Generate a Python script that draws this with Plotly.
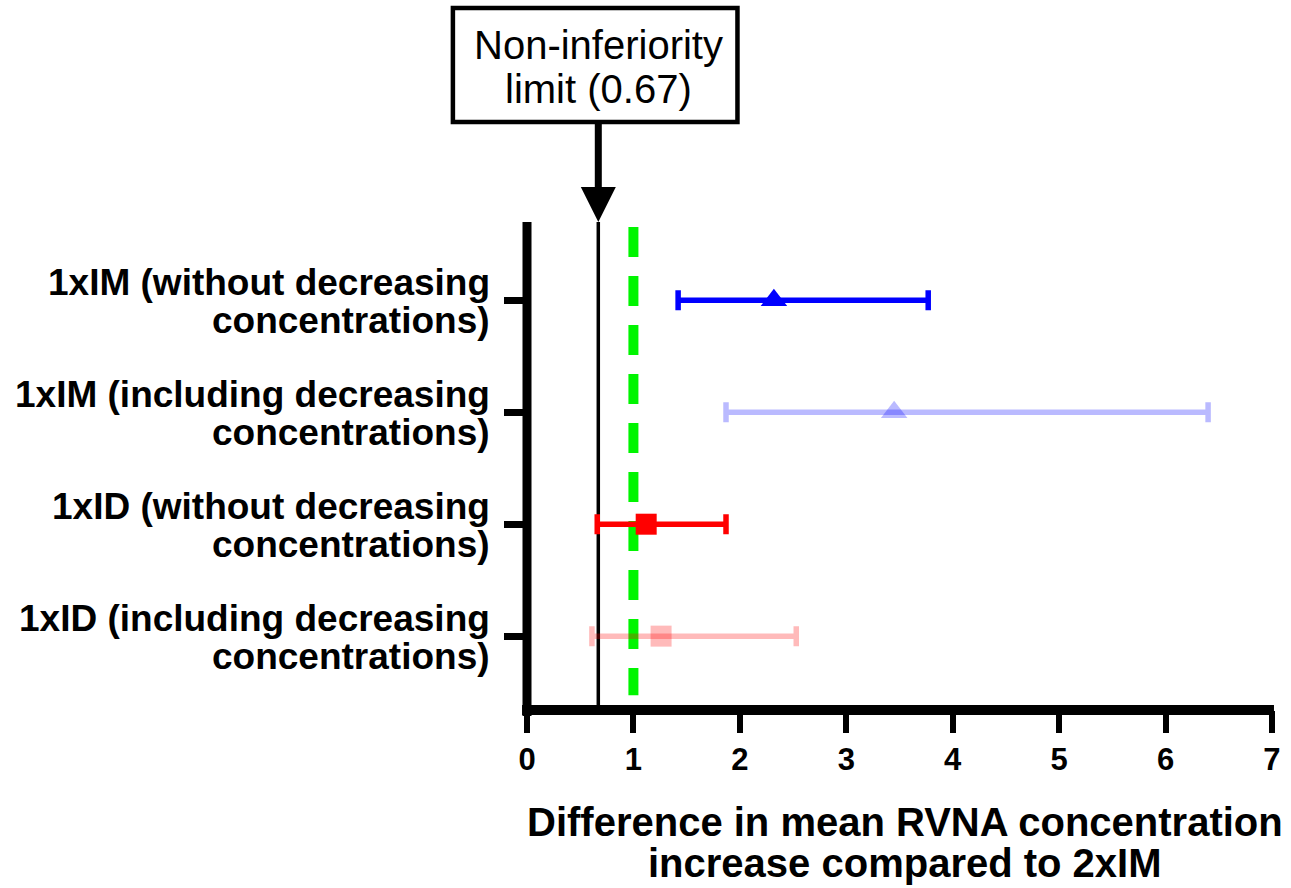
import plotly.graph_objects as go

categories = ["1xIM (without decreasing<br>concentrations)",
              "1xIM (including decreasing<br>concentrations)",
              "1xID (without decreasing<br>concentrations)",
              "1xID (including decreasing<br>concentrations)"]
point = [2.32, 3.45, 1.12, 1.26]
ci_low = [1.42, 1.87, 0.66, 0.61]
ci_high = [3.77, 6.40, 1.87, 2.53]
markers = ["triangle-up", "triangle-up", "square", "square"]
colors = ["rgb(0,0,255)", "rgba(0,0,255,0.27)", "rgb(255,0,0)", "rgba(255,0,0,0.27)"]
sizes = [23, 23, 21, 21]
noninf = 0.67
ref_line = 1.0
x_ticks = [0, 1, 2, 3, 4, 5, 6, 7]
box_lines = ["Non-inferiority", "limit (0.67)"]
x_title_lines = ["Difference in mean RVNA concentration", "increase compared to 2xIM"]

FONT = "Arial, Liberation Sans, sans-serif"

# plot area in pixels
L, R, T, B = 527, 1281, 222, 710
def pxx(p):
    return (p - L) / (R - L)
def pxy(p):
    return (B - p) / (B - T)

fig = go.Figure()
ypos = list(range(len(categories)))

# reference lines
fig.add_shape(type="line", xref="x", yref="paper", x0=noninf, x1=noninf, y0=0, y1=1,
              layer="below", line=dict(color="black", width=3.5))
fig.add_shape(type="line", xref="x", yref="paper", x0=ref_line, x1=ref_line, y0=pxy(227), y1=0.03,
              layer="below", line=dict(color="rgb(0,245,0)", width=10, dash="30px,19px"))

# axis lines
fig.add_shape(type="line", xref="paper", yref="paper", x0=0, x1=0, y0=pxy(716), y1=1,
              line=dict(color="black", width=9))
fig.add_shape(type="line", xref="paper", yref="paper", x0=pxx(522), x1=pxx(1283), y0=0, y1=0,
              line=dict(color="black", width=10))

for i in range(len(categories)):
    fig.add_trace(go.Scatter(
        x=[point[i]], y=[ypos[i]], mode="markers",
        marker=dict(symbol=markers[i], size=sizes[i], color=colors[i], line=dict(width=0)),
        error_x=dict(type="data", symmetric=False,
                     array=[ci_high[i] - point[i]], arrayminus=[point[i] - ci_low[i]],
                     color=colors[i], thickness=5.5, width=10),
        showlegend=False, hoverinfo="skip"))

# y category labels (two lines each, tight spacing)
for i, cat in enumerate(categories):
    l1, l2 = cat.split("<br>")
    for txt, shift in ((l1, 18), (l2, -20)):
        fig.add_annotation(x=0, xref="paper", y=ypos[i], yref="y", text=txt,
                           showarrow=False, xanchor="right", yanchor="middle",
                           xshift=-35, yshift=shift,
                           font=dict(family=FONT, size=37, color="black", weight="bold"))

# x title (two lines)
for txt, shift in ((x_title_lines[0], -112), (x_title_lines[1], -153)):
    fig.add_annotation(x=0.5, xref="paper", y=0, yref="paper", text=txt,
                       showarrow=False, xanchor="center", yanchor="middle",
                       xshift=5, yshift=shift,
                       font=dict(family=FONT, size=40, color="black", weight="bold"))

# non-inferiority box
fig.add_shape(type="rect", xref="paper", yref="paper",
              x0=pxx(452), x1=pxx(740), y0=pxy(122), y1=pxy(8),
              line=dict(color="black", width=4.5), fillcolor="rgba(0,0,0,0)")
for txt, py in ((box_lines[0], 45), (box_lines[1], 89)):
    fig.add_annotation(x=noninf, xref="x", y=pxy(py), yref="paper", text=txt,
                       showarrow=False, xanchor="center", yanchor="middle",
                       font=dict(family=FONT, size=40, color="black"))
fig.add_annotation(x=noninf, xref="x", y=pxy(222), yref="paper", text="",
                   showarrow=True, ax=0, ay=-100, arrowhead=2, arrowsize=1.0,
                   arrowwidth=7, arrowcolor="black", standoff=0, font=dict(size=1))

fig.update_xaxes(range=[0, 7.0005], tickvals=x_ticks, ticktext=[str(v) for v in x_ticks],
                 showline=False, ticklabeloverflow="allow",
                 ticks="outside", ticklen=22, tickwidth=6, tickcolor="black",
                 showgrid=False, zeroline=False,
                 tickfont=dict(family=FONT, size=31, color="black", weight="bold"))
fig.update_yaxes(range=[3.66, -0.70], tickvals=ypos, ticktext=["" for _ in ypos],
                 showline=False,
                 ticks="outside", ticklen=22, tickwidth=7, tickcolor="black",
                 showgrid=False, zeroline=False)

fig.update_layout(width=1291, height=888, plot_bgcolor="white", paper_bgcolor="white",
                  margin=dict(l=L, r=1291 - R, t=T, b=888 - B))

fig.write_html("out.html")
